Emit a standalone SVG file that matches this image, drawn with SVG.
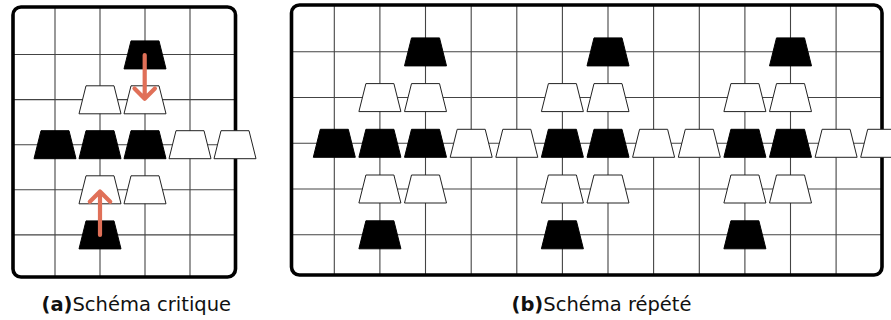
<svg xmlns="http://www.w3.org/2000/svg" xmlns:xlink="http://www.w3.org/1999/xlink" width="891" height="320" viewBox="0 0 891 320">
<style>
.grid{stroke:#444;stroke-width:1.1;fill:none}
.frame{fill:none;stroke:#000;stroke-width:3.6}
.blk{fill:#000;stroke:#000;stroke-width:1}
.wht{fill:#fff;stroke:#222;stroke-width:1}
.arr{fill:none;stroke:#E07058;stroke-width:4.2;stroke-linecap:round;stroke-linejoin:round}
.cap{font-family:"DejaVu Sans","Liberation Sans",sans-serif;font-size:19.5px;fill:#111}
</style>
<defs>
<polygon id="tz" points="-21,14 21,14 14,-14 -14,-14"/>
<clipPath id="clipA"><rect x="13" y="7" width="222.5" height="270" rx="8"/></clipPath>
<clipPath id="clipB"><rect x="291.5" y="5" width="590.5" height="270" rx="8"/></clipPath>
</defs>
<rect width="891" height="320" fill="#fff"/>

<!-- Panel A -->
<g id="panelA">
<rect x="13" y="7" width="222.5" height="270" rx="8" fill="#fff"/>
<g class="grid" clip-path="url(#clipA)">
<path d="M55,7V277M100,7V277M145,7V277M190,7V277"/>
<path d="M13,54.5H236M13,99.6H236M13,144.7H236M13,189.8H236M13,234.9H236"/>
</g>
<rect class="frame" x="13" y="7" width="222.5" height="270" rx="8"/>
</g>
<g id="a-r0-c2"><use xlink:href="#tz" class="blk" x="145" y="54.9"/></g>
<g id="a-r1-c1"><use xlink:href="#tz" class="wht" x="100" y="99.8"/></g>
<g id="a-r1-c2"><use xlink:href="#tz" class="wht" x="145" y="99.8"/></g>
<g id="a-r2-c0"><use xlink:href="#tz" class="blk" x="55" y="144.7"/></g>
<g id="a-r2-c1"><use xlink:href="#tz" class="blk" x="100" y="144.7"/></g>
<g id="a-r2-c2"><use xlink:href="#tz" class="blk" x="145" y="144.7"/></g>
<g id="a-r2-c3"><use xlink:href="#tz" class="wht" x="190" y="144.7"/></g>
<g id="a-r2-c4"><use xlink:href="#tz" class="wht" x="235" y="144.7"/></g>
<g id="a-r3-c1"><use xlink:href="#tz" class="wht" x="100" y="189.8"/></g>
<g id="a-r3-c2"><use xlink:href="#tz" class="wht" x="145" y="189.8"/></g>
<g id="a-r4-c1"><use xlink:href="#tz" class="blk" x="100" y="234.9"/></g>

<g id="connectors">
<path class="arr" d="M144.7,55V98.5M134.5,88.5L144.7,98.8L154.9,88.5"/>
<path class="arr" d="M100,235V192M89.8,201.8L100,191.5L110.2,201.8"/>
</g>

<!-- Panel B -->
<g id="panelB">
<rect x="291.5" y="5" width="590.5" height="270" rx="8" fill="#fff"/>
<g class="grid" clip-path="url(#clipB)">
<path d="M334.3,5V275M379.9,5V275M425.5,5V275M471.2,5V275M516.8,5V275M562.4,5V275M608,5V275M653.6,5V275M699.3,5V275M744.9,5V275M790.5,5V275M836.1,5V275"/>
<path d="M291.5,51.7H882M291.5,97.45H882M291.5,143.2H882M291.5,188.95H882M291.5,234.7H882"/>
</g>
<rect class="frame" x="291.5" y="5" width="590.5" height="270" rx="8"/>
</g>
<g id="b-r0-c2"><use xlink:href="#tz" class="blk" x="425.5" y="51.9"/></g>
<g id="b-r0-c6"><use xlink:href="#tz" class="blk" x="608" y="51.9"/></g>
<g id="b-r0-c10"><use xlink:href="#tz" class="blk" x="790.5" y="51.9"/></g>

<g id="b-r1-c1"><use xlink:href="#tz" class="wht" x="379.9" y="97.6"/></g>
<g id="b-r1-c2"><use xlink:href="#tz" class="wht" x="425.5" y="97.6"/></g>
<g id="b-r1-c5"><use xlink:href="#tz" class="wht" x="562.4" y="97.6"/></g>
<g id="b-r1-c6"><use xlink:href="#tz" class="wht" x="608" y="97.6"/></g>
<g id="b-r1-c9"><use xlink:href="#tz" class="wht" x="744.9" y="97.6"/></g>
<g id="b-r1-c10"><use xlink:href="#tz" class="wht" x="790.5" y="97.6"/></g>

<g id="b-r2-c0"><use xlink:href="#tz" class="blk" x="334.3" y="143.3"/></g>
<g id="b-r2-c1"><use xlink:href="#tz" class="blk" x="379.9" y="143.3"/></g>
<g id="b-r2-c2"><use xlink:href="#tz" class="blk" x="425.5" y="143.3"/></g>
<g id="b-r2-c3"><use xlink:href="#tz" class="wht" x="471.2" y="143.3"/></g>
<g id="b-r2-c4"><use xlink:href="#tz" class="wht" x="516.8" y="143.3"/></g>
<g id="b-r2-c5"><use xlink:href="#tz" class="blk" x="562.4" y="143.3"/></g>
<g id="b-r2-c6"><use xlink:href="#tz" class="blk" x="608" y="143.3"/></g>
<g id="b-r2-c7"><use xlink:href="#tz" class="wht" x="653.6" y="143.3"/></g>
<g id="b-r2-c8"><use xlink:href="#tz" class="wht" x="699.3" y="143.3"/></g>
<g id="b-r2-c9"><use xlink:href="#tz" class="blk" x="744.9" y="143.3"/></g>
<g id="b-r2-c10"><use xlink:href="#tz" class="blk" x="790.5" y="143.3"/></g>
<g id="b-r2-c11"><use xlink:href="#tz" class="wht" x="836.1" y="143.3"/></g>
<g id="b-r2-c12"><use xlink:href="#tz" class="wht" x="881.7" y="143.3"/></g>

<g id="b-r3-c1"><use xlink:href="#tz" class="wht" x="379.9" y="189"/></g>
<g id="b-r3-c2"><use xlink:href="#tz" class="wht" x="425.5" y="189"/></g>
<g id="b-r3-c5"><use xlink:href="#tz" class="wht" x="562.4" y="189"/></g>
<g id="b-r3-c6"><use xlink:href="#tz" class="wht" x="608" y="189"/></g>
<g id="b-r3-c9"><use xlink:href="#tz" class="wht" x="744.9" y="189"/></g>
<g id="b-r3-c10"><use xlink:href="#tz" class="wht" x="790.5" y="189"/></g>

<g id="b-r4-c1"><use xlink:href="#tz" class="blk" x="379.9" y="234.8"/></g>
<g id="b-r4-c5"><use xlink:href="#tz" class="blk" x="562.4" y="234.8"/></g>
<g id="b-r4-c9"><use xlink:href="#tz" class="blk" x="744.9" y="234.8"/></g>

<g id="captions">
<text class="cap" x="41.5" y="311"><tspan font-weight="bold">(a)</tspan>Schéma critique</text>
<text class="cap" x="511.5" y="311"><tspan font-weight="bold">(b)</tspan>Schéma répété</text>
</g>
</svg>
